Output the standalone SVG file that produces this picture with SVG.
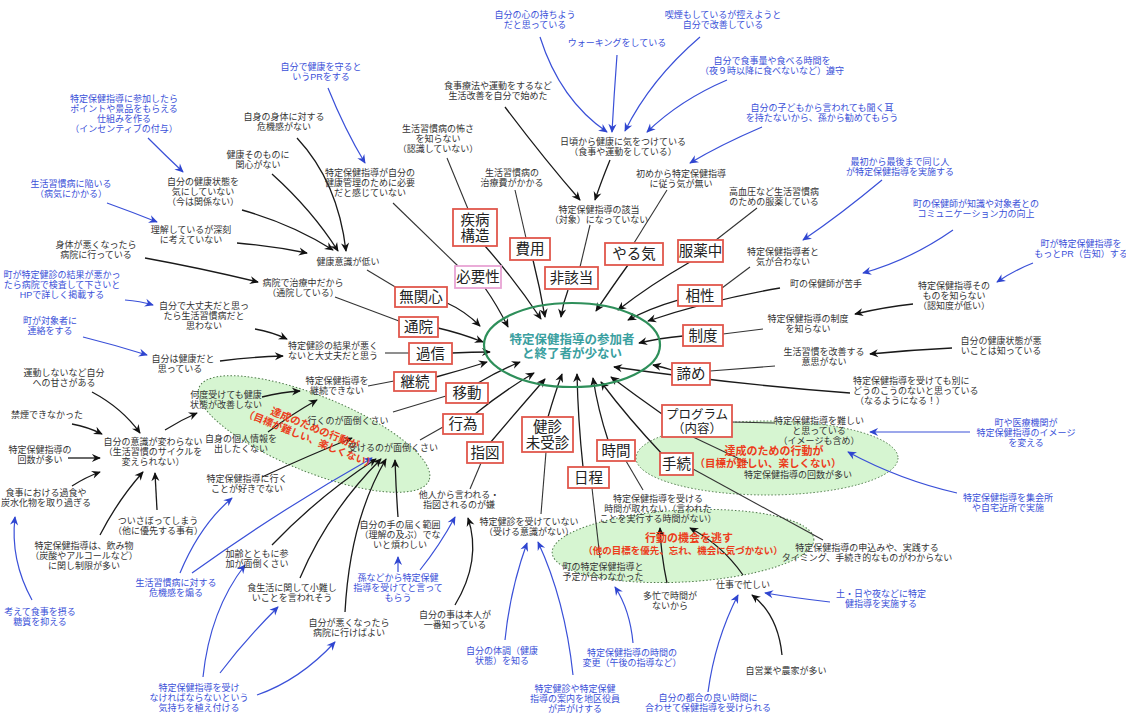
<svg xmlns="http://www.w3.org/2000/svg" width="1126" height="719" viewBox="0 0 1126 719">
<defs>
<marker id="ak" viewBox="0 0 10 10" refX="9" refY="5" markerWidth="10" markerHeight="9" markerUnits="userSpaceOnUse" orient="auto"><path d="M0,0.5 L10,5 L0,9.5 L3.2,5 z" fill="#111"/></marker>
<marker id="ab" viewBox="0 0 10 10" refX="9" refY="5" markerWidth="10" markerHeight="9" markerUnits="userSpaceOnUse" orient="auto"><path d="M0,0.5 L10,5 L0,9.5 L3.2,5 z" fill="#2f45d0"/></marker>
</defs>
<style>
text{font-family:"Liberation Sans","Noto Sans CJK JP",sans-serif}
.t{font-size:9px;fill:#333;text-anchor:middle}
.l{text-anchor:start}
.b{fill:#3a50d8}
.bx{fill:#fff;stroke:#e0574c;stroke-width:1.8}
.p{stroke:#e8a4d4}
.bt{font-size:14.5px;fill:#222;text-anchor:middle}
.bs{font-size:12.5px}
.g{fill:#d6f5d1;stroke:#4f7a4a;stroke-width:1;stroke-dasharray:1.5 2}
.r{font-weight:bold;fill:#ec3d1c;text-anchor:middle}
#conn path{fill:none}
.k{stroke:#1a1a1a;stroke-width:1.3;marker-end:url(#ak)}
.n{stroke:#333;stroke-width:1.1}
.u{stroke:#3a50d8;stroke-width:1.2;marker-end:url(#ab)}
</style>
<rect width="1126" height="719" fill="#fff"/>

<g id="zones">
<ellipse class="g" cx="314" cy="434" rx="124" ry="38" transform="rotate(22 314 434)"/>
<ellipse class="g" cx="767" cy="458" rx="131" ry="37"/>
<ellipse class="g" cx="683" cy="546" rx="131" ry="36" transform="rotate(-3 683 546)"/>
</g>

<g id="conn">
<path class="k" d="M262,397 Q282,392 300,391"/>
<path class="k" d="M268,432 Q292,414 317,400"/>
<path class="k" d="M262,477 Q310,455 352,438"/>
<path class="k" d="M272,545 Q320,495 376,459"/>
<path class="k" d="M300,578 Q328,512 381,459"/>
<path class="k" d="M345,612 Q350,520 386,459"/>
<path class="k" d="M398,517 Q396,490 395,460"/>
<path class="k" d="M165,430 Q181,420 197,413"/>
<path class="k" d="M92,392 Q122,408 140,433"/>
<path class="k" d="M72,424 Q88,427 102,434"/>
<path class="k" d="M68,458 L100,458"/>
<path class="k" d="M72,486 Q86,477 100,472"/>
<path class="k" d="M100,535 Q118,500 143,472"/>
<path class="k" d="M157,510 Q156,492 155,473"/>
<path class="k" d="M145,258 Q200,268 258,282"/>
<path class="k" d="M237,243 Q272,246 307,253"/>
<path class="k" d="M242,210 Q292,224 333,250"/>
<path class="k" d="M272,174 Q312,210 338,251"/>
<path class="k" d="M297,138 Q338,182 346,251"/>
<path class="k" d="M255,329 Q272,332 287,339"/>
<path class="k" d="M220,361 Q250,357 283,356"/>
<path class="k" d="M610,160 Q601,182 595,200"/>
<path class="k" d="M505,107 Q545,160 580,200"/>
<path class="k" d="M913,304 Q885,307 855,314"/>
<path class="k" d="M952,348 Q910,350 870,354"/>
<path class="k" d="M667,583 Q661,555 660,528"/>
<path class="k" d="M743,575 Q722,545 690,528"/>
<path class="k" d="M782,655 Q778,615 752,595"/>
<path class="k" d="M455,605 Q482,560 468,518"/>
<path class="k" d="M447,303 Q465,311 480,326"/>
<path class="k" d="M485,288 Q497,305 508,327"/>
<path class="k" d="M485,246 Q515,280 541,319"/>
<path class="k" d="M533,260 Q540,288 545,317"/>
<path class="k" d="M568,290 Q563,303 561,317"/>
<path class="k" d="M628,265 Q610,290 596,311"/>
<path class="k" d="M690,262 Q650,285 618,310"/>
<path class="k" d="M678,300 Q650,308 628,320"/>
<path class="k" d="M780,288 Q710,300 648,321"/>
<path class="k" d="M683,336 Q660,338 639,343"/>
<path class="k" d="M672,370 Q662,367 653,365"/>
<path class="k" d="M850,393 Q740,385 614,367"/>
<path class="k" d="M662,414 Q635,395 611,377"/>
<path class="k" d="M663,455 Q628,418 601,382"/>
<path class="k" d="M608,440 Q598,410 593,378"/>
<path class="k" d="M583,467 Q578,420 577,374"/>
<path class="k" d="M548,417 Q555,393 562,374"/>
<path class="k" d="M490,443 Q518,410 545,379"/>
<path class="k" d="M475,414 Q505,390 534,373"/>
<path class="k" d="M478,383 Q500,370 520,362"/>
<path class="k" d="M436,377 Q462,370 487,362"/>
<path class="k" d="M452,353 Q472,352 490,352"/>
<path class="k" d="M438,328 Q460,333 483,342"/>
<path class="n" d="M367,270 L397,288"/>
<path class="n" d="M335,297 L399,321"/>
<path class="n" d="M385,353 L409,353"/>
<path class="n" d="M368,386 L394,381"/>
<path class="n" d="M393,412 L446,396"/>
<path class="n" d="M420,440 L443,427"/>
<path class="n" d="M470,489 L481,463"/>
<path class="n" d="M541,514 L546,452"/>
<path class="n" d="M600,558 L592,488"/>
<path class="n" d="M643,490 L626,461"/>
<path class="n" d="M775,423 L732,422"/>
<path class="n" d="M748,463 L693,437"/>
<path class="n" d="M823,540 L693,469"/>
<path class="n" d="M447,158 L468,209"/>
<path class="n" d="M515,190 L526,238"/>
<path class="n" d="M590,225 L580,267"/>
<path class="n" d="M667,190 L634,243"/>
<path class="n" d="M757,208 L716,240"/>
<path class="n" d="M393,203 L458,266"/>
<path class="n" d="M750,267 L722,288"/>
<path class="n" d="M763,329 L723,334"/>
<path class="n" d="M775,366 L710,371"/>
<path class="u" d="M540,37 Q560,100 607,132"/>
<path class="u" d="M617,55 Q614,95 612,132"/>
<path class="u" d="M700,37 Q650,80 625,131"/>
<path class="u" d="M727,80 Q680,100 647,132"/>
<path class="u" d="M762,127 Q720,145 690,163"/>
<path class="u" d="M328,88 Q345,130 365,163"/>
<path class="u" d="M148,138 Q165,155 183,172"/>
<path class="u" d="M107,203 Q132,212 157,222"/>
<path class="u" d="M125,300 Q140,301 153,305"/>
<path class="u" d="M83,337 Q115,345 147,355"/>
<path class="u" d="M32,600 Q10,560 15,517"/>
<path class="u" d="M180,573 Q200,525 232,498"/>
<path class="u" d="M192,573 Q280,510 372,458"/>
<path class="u" d="M203,677 Q210,610 245,565"/>
<path class="u" d="M220,673 Q245,640 278,607"/>
<path class="u" d="M257,695 Q300,680 335,642"/>
<path class="u" d="M398,572 L398,557"/>
<path class="u" d="M420,570 Q440,545 455,517"/>
<path class="u" d="M505,640 Q510,590 527,543"/>
<path class="u" d="M573,675 Q565,600 538,542"/>
<path class="u" d="M633,643 Q630,610 615,587"/>
<path class="u" d="M708,692 Q715,640 738,595"/>
<path class="u" d="M830,602 Q795,598 765,593"/>
<path class="u" d="M882,180 Q840,215 803,240"/>
<path class="u" d="M953,230 Q910,260 863,273"/>
<path class="u" d="M1033,263 Q1015,270 997,282"/>
<path class="u" d="M970,432 L870,432"/>
<path class="u" d="M957,493 Q900,480 848,452"/>
</g>

<g id="center">
<ellipse cx="572" cy="345" rx="88" ry="42" fill="none" stroke="#2e8f5a" stroke-width="2.2"/>
<text x="572" y="344" font-size="12.5" font-weight="bold" fill="#3aa0a0" text-anchor="middle">特定保健指導の参加者<tspan x="572" y="358">と終了者が少ない</tspan></text>
</g>

<g id="zone-labels">
<g transform="translate(315,428) rotate(22)">
<text class="r" x="0" y="4" font-size="10.5">達成のための行動が<tspan x="-1" y="15.5" font-size="10">（目標が難しい、楽しくない）</tspan></text>
</g>
<text class="r" x="774" y="455" font-size="11">達成のための行動が<tspan x="768" y="467" font-size="10.5">（目標が難しい、楽しくない）</tspan></text>
<text class="r" x="689" y="542" font-size="11">行動の機会を逃す<tspan x="683" y="554" font-size="9.5">（他の目標を優先、忘れ、機会に気づかない）</tspan></text>
</g>

<g id="box-shippei"><rect class="bx" x="453" y="209" width="44" height="37"/><text class="bt" x="475" y="225">疾病<tspan x="475" y="241">構造</tspan></text></g>
<g id="box-hiyou"><rect class="bx" x="510" y="238" width="40" height="22"/><text class="bt" x="530" y="254">費用</text></g>
<g id="box-hitsuyou"><rect class="bx p" x="455" y="266" width="46" height="22"/><text class="bt" x="478" y="282">必要性</text></g>
<g id="box-higaitou"><rect class="bx" x="545" y="267" width="53" height="22"/><text class="bt" x="571.5" y="283">非該当</text></g>
<g id="box-yaruki"><rect class="bx" x="605" y="243" width="58" height="22"/><text class="bt" x="634" y="259">やる気</text></g>
<g id="box-fukuyaku"><rect class="bx" x="678" y="240" width="45" height="22"/><text class="bt" x="700.5" y="256">服薬中</text></g>
<g id="box-aishou"><rect class="bx" x="678" y="285" width="44" height="21"/><text class="bt" x="700" y="300.5">相性</text></g>
<g id="box-seido"><rect class="bx" x="683" y="325" width="40" height="21"/><text class="bt" x="703" y="340.5">制度</text></g>
<g id="box-akirame"><rect class="bx" x="672" y="363" width="38" height="22"/><text class="bt" x="691" y="379">諦め</text></g>
<g id="box-program"><rect class="bx" x="662" y="405" width="70" height="32"/><text class="bt bs" x="697" y="419">プログラム<tspan x="697" y="433">（内容）</tspan></text></g>
<g id="box-tetsuzuki"><rect class="bx" x="660" y="453" width="33" height="22"/><text class="bt" x="676.5" y="469">手続</text></g>
<g id="box-jikan"><rect class="bx" x="597" y="440" width="38" height="21"/><text class="bt" x="616" y="455.5">時間</text></g>
<g id="box-nittei"><rect class="bx" x="568" y="467" width="41" height="21"/><text class="bt" x="588.5" y="482.5">日程</text></g>
<g id="box-kenshin"><rect class="bx" x="522" y="417" width="51" height="35"/><text class="bt" x="547.5" y="432">健診<tspan x="547.5" y="448">未受診</tspan></text></g>
<g id="box-sashizu"><rect class="bx" x="467" y="442" width="36" height="21"/><text class="bt" x="485" y="457.5">指図</text></g>
<g id="box-koui"><rect class="bx" x="443" y="414" width="40" height="20"/><text class="bt" x="463" y="429">行為</text></g>
<g id="box-idou"><rect class="bx" x="446" y="383" width="42" height="20"/><text class="bt" x="467" y="398">移動</text></g>
<g id="box-keizoku"><rect class="bx" x="394" y="372" width="42" height="19"/><text class="bt" x="415" y="386.5">継続</text></g>
<g id="box-kashin"><rect class="bx" x="409" y="343" width="43" height="21"/><text class="bt" x="430.5" y="358.5">過信</text></g>
<g id="box-tsuuin"><rect class="bx" x="399" y="317" width="39" height="20"/><text class="bt" x="418.5" y="332">通院</text></g>
<g id="box-mukanshin"><rect class="bx" x="395" y="287" width="52" height="20"/><text class="bt" x="421" y="302">無関心</text></g>

<g id="blue-nodes">
<g id="u1"><text class="t b" x="535" y="18">自分の心の持ちよう<tspan x="535" y="28">だと思っている</tspan></text></g>
<g id="u2"><text class="t b" x="617" y="46">ウォーキングをしている</text></g>
<g id="u3"><text class="t b" x="723" y="18">喫煙もしているが控えようと<tspan x="723" y="28">自分で改善している</tspan></text></g>
<g id="u4"><text class="t b" x="772" y="64">自分で食事量や食べる時間を<tspan x="772" y="74">（夜９時以降に食べないなど）遵守</tspan></text></g>
<g id="u5"><text class="t b" x="822" y="111">自分の子どもから言われても聞く耳<tspan x="822" y="121">を持たないから、孫から勧めてもらう</tspan></text></g>
<g id="u6"><text class="t b" x="900" y="165">最初から最後まで同じ人<tspan x="900" y="175">が特定保健指導を実施する</tspan></text></g>
<g id="u7"><text class="t b" x="976" y="207">町の保健師が知識や対象者との<tspan x="976" y="217">コミュニケーション力の向上</tspan></text></g>
<g id="u8"><text class="t b" x="1081" y="247">町が特定保健指導を<tspan x="1081" y="257">もっとPR（告知）する</tspan></text></g>
<g id="u9"><text class="t b" x="1026" y="426">町や医療機関が<tspan x="1026" y="436">特定保健指導のイメージ</tspan><tspan x="1026" y="446">を変える</tspan></text></g>
<g id="u10"><text class="t b" x="1008" y="501">特定保健指導を集会所<tspan x="1008" y="511">や自宅近所で実施</tspan></text></g>
<g id="u11"><text class="t b" x="881" y="597">土・日や夜などに特定<tspan x="881" y="607">健指導を実施する</tspan></text></g>
<g id="u12"><text class="t b" x="708" y="701">自分の都合の良い時間に<tspan x="708" y="711">合わせて保健指導を受けられる</tspan></text></g>
<g id="u13"><text class="t b" x="632" y="656">特定保健指導の時間の<tspan x="632" y="666">変更（午後の指導など）</tspan></text></g>
<g id="u14"><text class="t b" x="575" y="692">特定健診や特定保健<tspan x="575" y="702">指導の案内を地区役員</tspan><tspan x="575" y="712">が声がけする</tspan></text></g>
<g id="u15"><text class="t b" x="502" y="654">自分の体調（健康<tspan x="502" y="664">状態）を知る</tspan></text></g>
<g id="u16"><text class="t b" x="398" y="581">孫などから特定保健<tspan x="398" y="591">指導を受けてと言って</tspan><tspan x="398" y="601">もらう</tspan></text></g>
<g id="u17"><text class="t b" x="199" y="691">特定保健指導を受け<tspan x="199" y="701">なければならないという</tspan><tspan x="199" y="711">気持ちを植え付ける</tspan></text></g>
<g id="u18"><text class="t b" x="176" y="586">生活習慣病に対する<tspan x="176" y="596">危機感を煽る</tspan></text></g>
<g id="u19"><text class="t b" x="40" y="615">考えて食事を摂る<tspan x="40" y="625">糖質を抑える</tspan></text></g>
<g id="u20"><text class="t b" x="50" y="324">町が対象者に<tspan x="50" y="334">連絡をする</tspan></text></g>
<g id="u21"><text class="t b" x="62" y="278">町が特定健診の結果が悪かっ<tspan x="62" y="288">たら病院で検査して下さいと</tspan><tspan x="62" y="298">HPで詳しく掲載する</tspan></text></g>
<g id="u22"><text class="t b" x="71" y="187">生活習慣病に陥いる<tspan x="71" y="197">（病気にかかる）</tspan></text></g>
<g id="u23"><text class="t b" x="124" y="102">特定保健指導に参加したら<tspan x="124" y="112">ポイントや景品をもらえる</tspan><tspan x="124" y="122">仕組みを作る</tspan><tspan x="124" y="132">（インセンティブの付与）</tspan></text></g>
<g id="u24"><text class="t b" x="321" y="70">自分で健康を守ると<tspan x="321" y="80">いうPRをする</tspan></text></g>
</g>

<g id="black-nodes">
<g id="k1"><text class="t" x="498" y="89">食事療法や運動をするなど<tspan x="498" y="99">生活改善を自分で始めた</tspan></text></g>
<g id="k2"><text class="t" x="284" y="120">自身の身体に対する<tspan x="284" y="130">危機感がない</tspan></text></g>
<g id="k3"><text class="t" x="438" y="132">生活習慣病の怖さ<tspan x="438" y="142">を知らない</tspan><tspan x="438" y="152">（認識していない）</tspan></text></g>
<g id="k4"><text class="t" x="623" y="145">日頃から健康に気をつけている<tspan x="623" y="155">（食事や運動をしている）</tspan></text></g>
<g id="k5"><text class="t" x="258" y="158">健康そのものに<tspan x="258" y="168">関心がない</tspan></text></g>
<g id="k6"><text class="t" x="370" y="176">特定保健指導が自分の<tspan x="370" y="186">健康管理のために必要</tspan><tspan x="370" y="196">だと感じていない</tspan></text></g>
<g id="k7"><text class="t" x="512" y="176">生活習慣病の<tspan x="512" y="186">治療費がかかる</tspan></text></g>
<g id="k8"><text class="t" x="681" y="177">初めから特定保健指導<tspan x="681" y="187">に従う気が無い</tspan></text></g>
<g id="k9"><text class="t" x="203" y="185">自分の健康状態を<tspan x="203" y="195">気にしていない</tspan><tspan x="203" y="205">（今は関係ない）</tspan></text></g>
<g id="k10"><text class="t" x="774" y="195">高血圧など生活習慣病<tspan x="774" y="205">のための服薬している</tspan></text></g>
<g id="k11"><text class="t" x="599" y="213">特定保健指導の該当<tspan x="599" y="223">（対象）になっていない</tspan></text></g>
<g id="k12"><text class="t" x="191" y="233">理解しているが深刻<tspan x="191" y="243">に考えていない</tspan></text></g>
<g id="k13"><text class="t" x="96" y="248">身体が悪くなったら<tspan x="96" y="258">病院に行っている</tspan></text></g>
<g id="k14"><text class="t" x="783" y="255">特定保健指導者と<tspan x="783" y="265">気が合わない</tspan></text></g>
<g id="k15"><text class="t" x="348" y="265">健康意識が低い</text></g>
<g id="k16"><text class="t" x="303" y="286">病院で治療中だから<tspan x="303" y="296">（通院している）</tspan></text></g>
<g id="k17"><text class="t" x="826" y="287">町の保健師が苦手</text></g>
<g id="k18"><text class="t" x="954" y="289">特定保健指導その<tspan x="954" y="299">ものを知らない</tspan><tspan x="954" y="309">（認知度が低い）</tspan></text></g>
<g id="k19"><text class="t" x="204" y="309">自分で大丈夫だと思っ<tspan x="204" y="319">たら生活習慣病だと</tspan><tspan x="204" y="329">思わない</tspan></text></g>
<g id="k20"><text class="t" x="808" y="322">特定保健指導の制度<tspan x="808" y="332">を知らない</tspan></text></g>
<g id="k21"><text class="t" x="1001" y="344">自分の健康状態が悪<tspan x="1001" y="354">いことは知っている</tspan></text></g>
<g id="k22"><text class="t" x="333" y="349">特定健診の結果が悪く<tspan x="333" y="359">ないと大丈夫だと思う</tspan></text></g>
<g id="k23"><text class="t" x="824" y="355">生活習慣を改善する<tspan x="824" y="365">意思がない</tspan></text></g>
<g id="k24"><text class="t" x="183" y="362">自分は健康だと<tspan x="180" y="372">思っている</tspan></text></g>
<g id="k25"><text class="t" x="64" y="376">運動しないなど自分<tspan x="64" y="386">への甘さがある</tspan></text></g>
<g id="k26"><text class="t l" x="853" y="384">特定保健指導を受けても別に<tspan x="853" y="394">どうのこうのないと思っている</tspan><tspan x="855" y="404">（なるようになる！）</tspan></text></g>
<g id="k27"><text class="t" x="337" y="384">特定保健指導を<tspan x="337" y="394">継続できない</tspan></text></g>
<g id="k28"><text class="t" x="226" y="398">何度受けても健康<tspan x="226" y="408">状態が改善しない</tspan></text></g>
<g id="k29"><text class="t" x="47" y="418">禁煙できなかった</text></g>
<g id="k30"><text class="t" x="348" y="424">行くのが面倒くさい</text></g>
<g id="k31"><text class="t" x="819" y="424">特定保健指導を難しい<tspan x="819" y="434">と思っている</tspan><tspan x="819" y="444">（イメージも含め）</tspan></text></g>
<g id="k32"><text class="t" x="241" y="442">自身の個人情報を<tspan x="241" y="452">出したくない</tspan></text></g>
<g id="k33"><text class="t" x="153" y="445">自分の意識が変わらない<tspan x="153" y="455">（生活習慣のサイクルを</tspan><tspan x="153" y="465">変えられない）</tspan></text></g>
<g id="k34"><text class="t" x="393" y="451">受けるのが面倒くさい</text></g>
<g id="k35"><text class="t" x="40" y="453">特定保健指導の<tspan x="40" y="463">回数が多い</tspan></text></g>
<g id="k36"><text class="t" x="798" y="478">特定保健指導の回数が多い</text></g>
<g id="k37"><text class="t" x="247" y="482">特定保健指導に行く<tspan x="247" y="492">ことが好きでない</tspan></text></g>
<g id="k38"><text class="t" x="46" y="496">食事における過食や<tspan x="46" y="506">炭水化物を取り過ぎる</tspan></text></g>
<g id="k39"><text class="t" x="459" y="498">他人から言われる・<tspan x="459" y="508">指図されるのが嫌</tspan></text></g>
<g id="k40"><text class="t" x="658" y="502">特定保健指導を受ける<tspan x="658" y="512">時間が取れない（言われた</tspan><tspan x="658" y="522">ことを実行する時間がない）</tspan></text></g>
<g id="k41"><text class="t" x="158" y="524">ついさぼってしまう<tspan x="158" y="534">（他に優先する事有）</tspan></text></g>
<g id="k42"><text class="t" x="529" y="525">特定健診を受けていない<tspan x="529" y="535">（受ける意識がない）</tspan></text></g>
<g id="k43"><text class="t" x="400" y="528">自分の手の届く範囲<tspan x="400" y="538">（理解の及ぶ）でな</tspan><tspan x="400" y="548">いと煩わしい</tspan></text></g>
<g id="k44"><text class="t" x="84" y="549">特定保健指導は、飲み物<tspan x="84" y="559">（炭酸やアルコールなど）</tspan><tspan x="84" y="569">に関し制限が多い</tspan></text></g>
<g id="k45"><text class="t" x="867" y="551">特定保健指導の申込みや、実践する<tspan x="867" y="561">タイミング、手続き的なものがわからない</tspan></text></g>
<g id="k46"><text class="t" x="257" y="557">加齢とともに参<tspan x="257" y="567">加が面倒くさい</tspan></text></g>
<g id="k47"><text class="t" x="603" y="570">町の特定保健指導と<tspan x="603" y="580">予定が合わなかった</tspan></text></g>
<g id="k48"><text class="t" x="743" y="588">仕事で忙しい</text></g>
<g id="k49"><text class="t" x="292" y="591">食生活に関して小難し<tspan x="292" y="601">いことを言われそう</tspan></text></g>
<g id="k50"><text class="t" x="670" y="599">多忙で時間が<tspan x="670" y="609">ないから</tspan></text></g>
<g id="k51"><text class="t" x="786" y="674">自営業や農家が多い</text></g>
<g id="k52"><text class="t" x="455" y="618">自分の事は本人が<tspan x="455" y="628">一番知っている</tspan></text></g>
<g id="k53"><text class="t" x="349" y="626">自分が悪くなったら<tspan x="349" y="636">病院に行けばよい</tspan></text></g>
</g>
</svg>
